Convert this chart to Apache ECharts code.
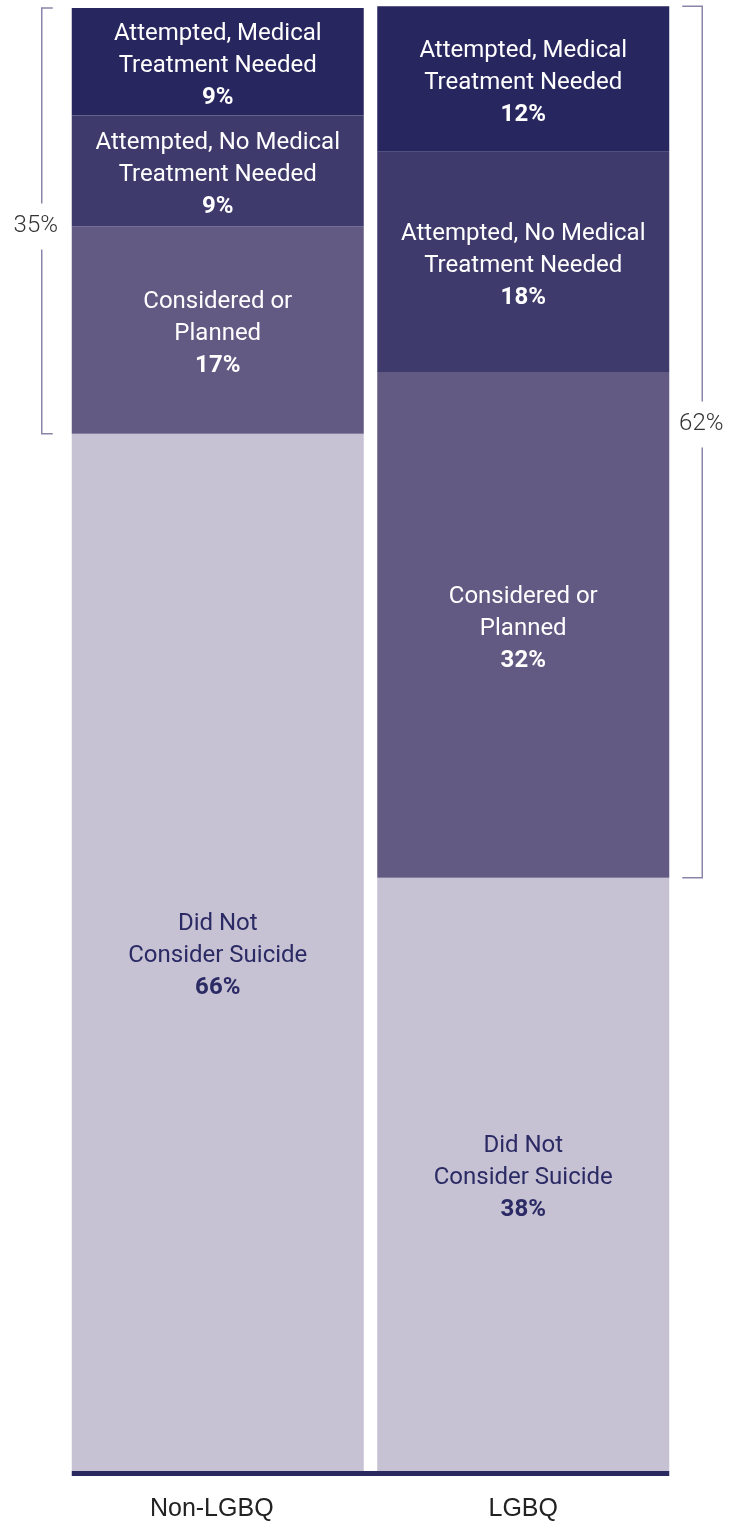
<!DOCTYPE html>
<html>
<head>
<meta charset="utf-8">
<script src="https://cdn.jsdelivr.net/npm/echarts@6/dist/echarts.min.js"></script>
<style>
  html, body { margin: 0; padding: 0; background: #fff; }
  #chart { width: 742px; height: 1522px; }
</style>
</head>
<body>
<div id="chart"></div>
<script>
const groups = ["Non-LGBQ", "LGBQ"]

// segments, bottom to top
const segmentNames = [
  "Did Not\nConsider Suicide",
  "Considered or\nPlanned",
  "Attempted, No Medical\nTreatment Needed",
  "Attempted, Medical\nTreatment Needed",
]

// percentages printed in the segments
const nonLgbqPct = [66, 17, 9, 9]
const lgbqPct = [38, 32, 18, 12]

// segment heights as drawn (share of the axis)
const nonLgbqHeight = [70.8, 14.16, 7.56, 7.35]
const lgbqHeight = [40.5, 34.51, 15.04, 9.94]

// bracket totals (everything above "Did Not Consider")
const bracketPct = [35, 62]

const segmentColors = ["#c6c2d3", "#625a82", "#3e3a6b", "#28265f"]
const labelColors = ["#2b2a64", "#ffffff", "#ffffff", "#ffffff"]

const BAR_W = 292
const BRACKET_OFFSET = [30, 33]
const BRACKET_TICK = [11, 20]
const BRACKET_LABEL_FRAC = [0.513, 0.48]
const BRACKET_LABEL_DX = [-6, -1]
const GAP = 23

const chart = echarts.init(document.getElementById("chart"))

const sum = (arr) => arr.reduce((a, b) => a + b, 0)

const barSeries = segmentNames.map((name, i) => ({
  name: name,
  type: "bar",
  stack: "total",
  barWidth: BAR_W,
  silent: true,
  data: [nonLgbqHeight[i], lgbqHeight[i]],
  itemStyle: { color: segmentColors[i] },
  label: {
    show: true,
    position: "inside",
    offset: [0, 4],
    formatter: (p) => {
      const pct = (p.dataIndex === 0 ? nonLgbqPct : lgbqPct)[i]
      const lines = name.split("\n").map((l) => "{n|" + l + "}")
      return lines.join("\n") + "\n{p|" + pct + "%}"
    },
    rich: {
      n: { fontFamily: "Roboto", fontSize: 24, color: labelColors[i], lineHeight: 32 },
      p: { fontFamily: "Roboto", fontSize: 24, fontWeight: "bold", color: labelColors[i], lineHeight: 32 },
    },
  },
}))

const brackets = {
  type: "custom",
  silent: true,
  encode: { x: 0, y: [1, 2] },
  data: [
    [0, nonLgbqHeight[0], sum(nonLgbqHeight), bracketPct[0]],
    [1, lgbqHeight[0], sum(lgbqHeight), bracketPct[1]],
  ],
  renderItem: (params, api) => {
    const cat = api.value(0)
    const side = cat === 0 ? -1 : 1
    const pBot = api.coord([cat, api.value(1)])
    const pTop = api.coord([cat, api.value(2)])
    const x = pBot[0] + side * (BAR_W / 2 + BRACKET_OFFSET[cat])
    const tx = x - side * BRACKET_TICK[cat]
    const yTop = pTop[1]
    const yBot = pBot[1]
    const yLab = yTop + (yBot - yTop) * BRACKET_LABEL_FRAC[cat]
    const style = { stroke: "#8a85a8", lineWidth: 1.5, fill: null }
    return {
      type: "group",
      children: [
        { type: "polyline", shape: { points: [[tx, yTop], [x, yTop], [x, yLab - GAP]] }, style },
        { type: "polyline", shape: { points: [[x, yLab + GAP], [x, yBot], [tx, yBot]] }, style },
        {
          type: "text",
          style: {
            text: api.value(3) + "%",
            x: x + BRACKET_LABEL_DX[cat],
            y: yLab,
            align: "center",
            verticalAlign: "middle",
            fontFamily: "Roboto",
            fontWeight: 300,
            fontSize: 24,
            fill: "#333333",
          },
        },
      ],
    }
  },
}

const baseline = {
  type: "custom",
  silent: true,
  data: [[0, 0]],
  renderItem: (params, api) => {
    const p0 = api.coord([0, 0])
    const p1 = api.coord([1, 0])
    const x0 = p0[0] - BAR_W / 2
    const x1 = p1[0] + BAR_W / 2
    return {
      type: "rect",
      shape: { x: x0, y: p0[1], width: x1 - x0, height: 5 },
      style: { fill: "#2a2960" },
    }
  },
}

const option = {
  animation: false,
  backgroundColor: "#ffffff",
  grid: { left: 65, right: 66, top: 6, bottom: 47 },
  xAxis: {
    type: "category",
    data: [
      { value: groups[0], textStyle: { padding: [0, 12, 0, 0] } },
      { value: groups[1] },
    ],
    axisLine: { show: false },
    axisTick: { show: false },
    axisLabel: {
      fontFamily: "Liberation Sans",
      fontSize: 25,
      color: "#222222",
      margin: 26,
    },
  },
  yAxis: {
    type: "value",
    min: 0,
    max: 100,
    show: false,
  },
  series: [...barSeries, brackets, baseline],
}

chart.setOption(option)
</script>
</body>
</html>
